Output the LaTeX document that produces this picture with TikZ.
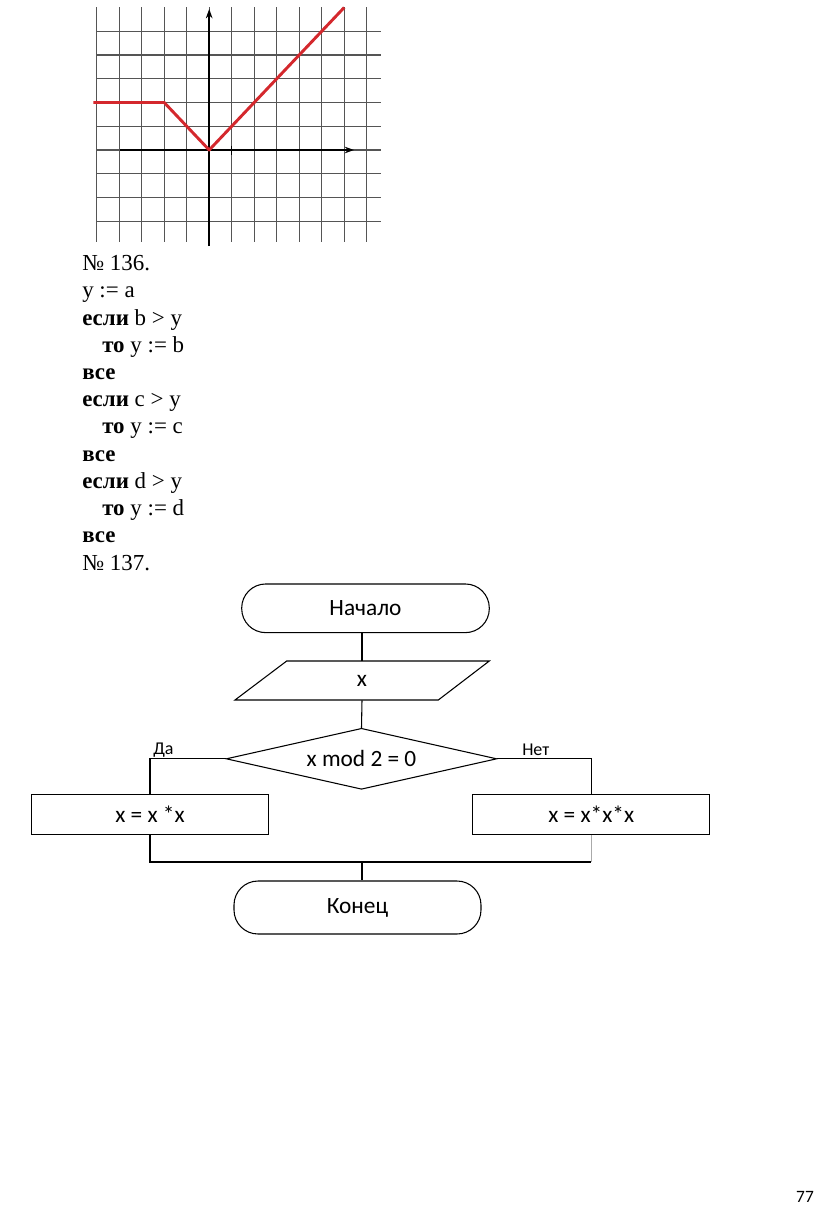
\documentclass[tikz,border=0pt]{standalone}
\usepackage{fontspec}
\setmainfont{Liberation Serif}
\newfontfamily\flowfont{Carlito}
\usetikzlibrary{shapes.geometric,arrows.meta}
\begin{document}
\begin{tikzpicture}[x=0.75pt,y=-0.75pt,
  gridline/.style={draw={rgb,255:red,85;green,85;blue,85},line width=0.95pt},
  axisline/.style={draw=black,line width=1.1pt,-{Stealth[length=7pt,width=5pt]}},
  graphline/.style={draw={rgb,255:red,212;green,40;blue,45},line width=2.2pt,line join=round},
  codeline/.style={anchor=base west,inner sep=0pt,font=\fontsize{17.2}{20.4}\selectfont},
  flow/.style={draw=black,line width=0.8pt},
  conn/.style={draw=black,line width=0.8pt},
  terminal/.style={flow,rounded corners=18pt,font=\flowfont\fontsize{17.5}{20}\selectfont},
  procbox/.style={flow,rectangle,minimum width=178.1pt,minimum height=30.2pt,inner sep=0pt,font=\flowfont\fontsize{17.5}{20}\selectfont},
  lbl/.style={anchor=base west,inner sep=0pt,font=\flowfont\fontsize{13.5}{15}\selectfont}
]
\useasboundingbox (0,0) rectangle (816,1211);

% ---------- grid ----------
\foreach \i in {0,...,12}{
  \draw[gridline] ({96.7+22.5*\i},7) -- ({96.7+22.5*\i},242);
}
\foreach \j in {-5,...,3}{
  \draw[gridline] (96,{150+23.75*\j}) -- (381,{150+23.75*\j});
}
% axes
\coordinate (yb) at (209.2,246);
\coordinate (yt) at (209.2,9);
\coordinate (xl) at (120,150);
\coordinate (xr) at (354,150);
\draw[axisline] (yb) -- (yt);
\draw[axisline] (xl) -- (xr);
\coordinate (tk1) at (231.7,145.5);
\coordinate (tk2) at (231.7,155);
\draw[draw=black,line width=1.1pt] (tk1) -- (tk2);
% graph
\coordinate (g0) at (93.3,102.5);
\coordinate (g1) at (164.2,102.5);
\coordinate (g2) at (209.2,150);
\coordinate (g3) at (344.2,7.5);
\draw[graphline] (g0) -- (g1) -- (g2) -- (g3);

% ---------- code ----------
\node[codeline] (t0) at (82,{270.7+27.21*0}) {№ 136.};
\node[codeline] (t1) at (82,{270.7+27.21*1}) {y := a};
\node[codeline] (t2) at (82,{270.7+27.21*2}) {\textbf{если} b > y};
\node[codeline] (t3) at (82,{270.7+27.21*3}) {\hspace*{15pt}\textbf{то} y := b};
\node[codeline] (t4) at (82,{270.7+27.21*4}) {\textbf{все}};
\node[codeline] (t5) at (82,{270.7+27.21*5}) {\textbf{если} c > y};
\node[codeline] (t6) at (82,{270.7+27.21*6}) {\hspace*{15pt}\textbf{то} y := c};
\node[codeline] (t7) at (82,{270.7+27.21*7}) {\textbf{все}};
\node[codeline] (t8) at (82,{270.7+27.21*8}) {\textbf{если} d > y};
\node[codeline] (t9) at (82,{270.7+27.21*9}) {\hspace*{15pt}\textbf{то} y := d};
\node[codeline] (t10) at (82,{270.7+27.21*10}) {\textbf{все}};
\node[codeline] (t11) at (82,{270.7+27.21*11}) {№ 137.};

% ---------- flowchart ----------
\node[terminal,minimum width=185.7pt,minimum height=36.5pt,inner sep=0pt] (start) at (365.5,608.3) {\raisebox{-2pt}{Начало}};
\draw[flow] (286.7,661) -- (489.3,661) -- (438.3,700) -- (235,700) -- cycle;
\node[inner sep=0pt,minimum width=100pt,minimum height=29.25pt,font=\flowfont\fontsize{17.5}{20}\selectfont] (in) at (362,680.5) {\raisebox{-2pt}{x}};
\node[flow,diamond,aspect=4.44,inner sep=0pt,minimum width=203pt,minimum height=45.75pt,font=\flowfont\fontsize{17.5}{20}\selectfont] (dec) at (361.5,758.8) {\raisebox{-2pt}{x mod 2 = 0}};
\node[procbox] (left) at (150,814.2) {\raisebox{-2pt}{x = x *x}};
\node[procbox] (right) at (591.2,814.2) {\raisebox{-2pt}{x = x*x*x}};
\node[terminal,minimum width=185.25pt,minimum height=39.75pt,inner sep=0pt] (end) at (357.5,907.5) {\raisebox{-2pt}{Конец}};
\coordinate (merge) at (362,862);
\coordinate (mleft) at (150,862);
\coordinate (mright) at (591.2,862);

\draw[conn] (in.north |- start.south) -- (in.north);
\draw[conn] (in.south) -- (dec.north);
\draw[conn] (dec.west) -| (left.north);
\draw[conn] (dec.east) -| (right.north);
\draw[conn] (left.south) -- (mleft) -- (mright);
\draw[draw={rgb,255:red,170;green,170;blue,170},line width=0.6pt] (right.south) -- (mright);
\draw[conn] (merge) -- (merge |- end.north);

\node[lbl] (da) at (153,754.5) {Да};
\node[lbl] (net) at (522,755) {Нет};

% page number
\node[inner sep=0pt,font=\flowfont\fontsize{13}{15}\selectfont] (page) at (805,1197) {77};
\end{tikzpicture}
\end{document}
